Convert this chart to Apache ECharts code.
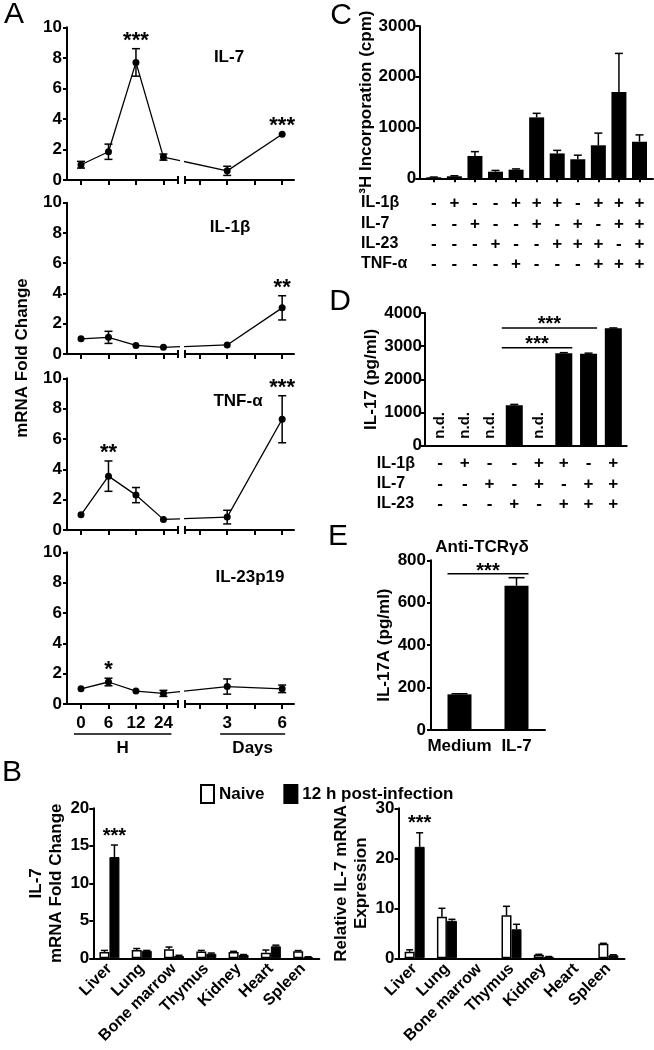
<!DOCTYPE html>
<html>
<head>
<meta charset="utf-8">
<script src="https://cdn.jsdelivr.net/npm/echarts@6.0.0/dist/echarts.min.js"></script>
<style>html,body{margin:0;padding:0;background:#fff;}#chart{width:654px;height:1050px;}</style>
</head>
<body>
<div id="chart"></div>
<script>
// ===== Panel A: time course of mRNA fold change =====
const timeLabels = ['0 h', '6 h', '12 h', '24 h', '3 d', '6 d'];
const timePos = [0, 1, 2, 3, 5.32, 7.32];
const hourTickPos = [0, 1, 2, 3];
const hourTickLabels = ['0', '6', '12', '24'];
const dayTickPos = [4.32, 5.32, 6.32, 7.32];
const dayTickLabels = ['', '3', '', '6'];
const hourGroupLabel = 'H';
const dayGroupLabel = 'Days';
const aTitles = ['IL-7', 'IL-1β', 'TNF-α', 'IL-23p19'];

const il7Mean = [1.0, 1.85, 7.7, 1.5, 0.6, 3.0];
const il7Err = [0.22, 0.5, 0.9, 0.2, 0.3, 0];
const il7Sig = ['', '', '***', '', '', '***'];
const il1bMean = [1.0, 1.1, 0.57, 0.44, 0.6, 3.05];
const il1bErr = [0, 0.4, 0, 0, 0, 0.8];
const il1bSig = ['', '', '', '', '', '**'];
const tnfMean = [1.0, 3.55, 2.3, 0.7, 0.85, 7.3];
const tnfErr = [0, 1.0, 0.5, 0, 0.45, 1.55];
const tnfSig = ['', '**', '', '', '', '***'];
const il23Mean = [1.0, 1.45, 0.85, 0.7, 1.15, 1.0];
const il23Err = [0, 0.25, 0, 0.2, 0.5, 0.25];
const il23Sig = ['', '*', '', '', '', ''];

// ===== Panel B: organs =====
const organs = ['Liver', 'Lung', 'Bone marrow', 'Thymus', 'Kidney', 'Heart', 'Spleen'];
const bSeriesNames = ['Naive', '12 h post-infection'];
const foldNaive = [0.85, 1.1, 1.2, 0.9, 0.85, 0.75, 0.95];
const foldNaiveErr = [0.2, 0.2, 0.3, 0.15, 0.08, 0.35, 0.08];
const foldPost = [13.5, 1.0, 0.3, 0.6, 0.45, 1.6, 0.15];
const foldPostErr = [1.6, 0.05, 0.1, 0.1, 0.05, 0.15, 0.05];
const foldSig = ['***', '', '', '', '', '', ''];
const relNaive = [1.3, 8.3, null, 8.6, 0.7, null, 2.9];
const relNaiveErr = [0.4, 1.7, null, 1.8, 0.1, null, 0.1];
const relPost = [22.3, 7.5, null, 5.8, 0.3, null, 0.6];
const relPostErr = [2.8, 0.3, null, 1.0, 0.05, null, 0.1];
const relSig = ['***', '', '', '', '', '', ''];

// ===== Panel C: 3H incorporation =====
const cRowNames = ['IL-1β', 'IL-7', 'IL-23', 'TNF-α'];
const cIL1b = ['-', '+', '-', '-', '+', '+', '+', '-', '+', '+', '+'];
const cIL7 = ['-', '-', '+', '-', '-', '+', '-', '+', '-', '+', '+'];
const cIL23 = ['-', '-', '-', '+', '-', '-', '+', '+', '+', '-', '+'];
const cTNF = ['-', '-', '-', '-', '+', '-', '-', '-', '+', '+', '+'];
const cMean = [20, 40, 440, 130, 170, 1200, 490, 375, 650, 1700, 720];
const cErr = [5, 10, 85, 25, 15, 80, 60, 80, 240, 760, 135];

// ===== Panel D: IL-17 =====
const dRowNames = ['IL-1β', 'IL-7', 'IL-23'];
const dIL1b = ['-', '+', '-', '-', '+', '+', '-', '+'];
const dIL7 = ['-', '-', '+', '-', '+', '-', '+', '+'];
const dIL23 = ['-', '-', '-', '+', '-', '+', '+', '+'];
const dMean = [null, null, null, 1220, null, 2790, 2770, 3540];
const dErr = [0, 0, 0, 25, 0, 15, 20, 10];
const dND = ['n.d.', 'n.d.', 'n.d.', '', 'n.d.', '', '', ''];
const dSigStart = [3, 3];
const dSigEnd = [5, 6];
const dSigLevel = [2950, 3550];
const dSigText = ['***', '***'];

// ===== Panel E: IL-17A, anti-TCRγδ =====
const eCats = ['Medium', 'IL-7'];
const eMean = [168, 680];
const eErr = [3, 38];
const eSigStart = [0];
const eSigEnd = [1];
const eSigLevel = [737];
const eSigText = ['***'];

// ---------------------------------------------------------------
const FF = '"Liberation Sans", Arial, Helvetica, sans-serif';
const BLACK = '#000';
const lbl = (o) => Object.assign({ color: BLACK, fontFamily: FF, fontWeight: 'bold', fontSize: 17 }, o || {});
const plain = v => String(v);
const axLine = { show: true, onZero: false, lineStyle: { color: BLACK, width: 2 } };
const tickStyle = { color: BLACK, width: 2 };
const grid = [], xAxis = [], yAxis = [], series = [], graphic = [];
function addGrid(g) { grid.push(Object.assign({ containLabel: false, outerBoundsMode: 'none' }, g)); return grid.length - 1; }
function addX(a) { xAxis.push(a); return xAxis.length - 1; }
function addY(a) { yAxis.push(a); return yAxis.length - 1; }

function errRenderer(opts) {
  return function (params, api) {
    const x = api.value(0), m = api.value(1), e = api.value(2);
    if (isNaN(m) || !(e > 0)) return null;
    const hi = api.coord([x, m + e]);
    const mid = api.coord([x, m]);
    const lo = api.coord([x, m - e]);
    const cx = hi[0] + (opts.dx || 0);
    const yBot = opts.both ? lo[1] : mid[1];
    const st = { stroke: BLACK, lineWidth: opts.w || 1.5 };
    const ch = [
      { type: 'line', shape: { x1: cx, y1: hi[1], x2: cx, y2: yBot }, style: st },
      { type: 'line', shape: { x1: cx - opts.cap, y1: hi[1], x2: cx + opts.cap, y2: hi[1] }, style: st }
    ];
    if (opts.both) ch.push({ type: 'line', shape: { x1: cx - opts.cap, y1: yBot, x2: cx + opts.cap, y2: yBot }, style: st });
    return { type: 'group', children: ch };
  };
}
function sigRenderer(texts, size, off, dx) {
  return function (params, api) {
    const s = texts[params.dataIndex];
    if (!s) return null;
    const v = api.value(1);
    if (isNaN(v)) return null;
    const c = api.coord([api.value(0), v]);
    return { type: 'text', x: c[0] + (dx || 0), y: c[1] - off,
      style: { text: s, fill: BLACK, font: 'bold ' + size + 'px ' + FF, align: 'center', verticalAlign: 'middle' } };
  };
}
function bracketRenderer(texts, halfBar, leftPad, sigOff) {
  return function (params, api) {
    const a = api.coord([api.value(0), api.value(2)]);
    const b = api.coord([api.value(1), api.value(2)]);
    const x1 = a[0] - halfBar - leftPad, x2 = b[0] + halfBar;
    return { type: 'group', children: [
      { type: 'line', shape: { x1: x1, y1: a[1], x2: x2, y2: a[1] }, style: { stroke: BLACK, lineWidth: 1.5 } },
      { type: 'text', x: (x1 + x2) / 2, y: a[1] - sigOff,
        style: { text: texts[params.dataIndex], fill: BLACK, font: 'bold 20px ' + FF, align: 'center', verticalAlign: 'middle' } }
    ] };
  };
}

// ===================== Panel A =====================
const aPanels = [
  { mean: il7Mean, err: il7Err, sig: il7Sig },
  { mean: il1bMean, err: il1bErr, sig: il1bSig },
  { mean: tnfMean, err: tnfErr, sig: tnfSig },
  { mean: il23Mean, err: il23Err, sig: il23Sig }
];
const aTop = [27.3, 202.7, 378.3, 552.3];
const aH = [152.7, 151.3, 151.7, 151.7];
const aTitlePos = [[229, 57], [230, 227.5], [238, 401], [250, 577]];
const A_PX = 27.48, A_L0 = 67, A_ZERO = 81, A_LW = 111, A_R0 = 185, A_RW = 109;
const lineStyleA = { color: BLACK, width: 1.3 };
aPanels.forEach((p, k) => {
  const last = k === 3;
  const gL = addGrid({ left: A_L0, top: aTop[k], width: A_LW, height: aH[k] });
  const gR = addGrid({ left: A_R0, top: aTop[k], width: A_RW, height: aH[k] });
  const lmin = -(A_ZERO - A_L0) / A_PX, lmax = lmin + A_LW / A_PX;
  const rmin = (A_R0 - A_ZERO) / A_PX, rmax = rmin + A_RW / A_PX;
  const xl = addX({ gridIndex: gL, type: 'value', min: lmin, max: lmax, axisLine: axLine, splitLine: { show: false },
    axisTick: { show: true, customValues: hourTickPos, length: 5, lineStyle: tickStyle },
    axisLabel: last ? lbl({ customValues: hourTickPos, margin: 11, formatter: v => hourTickLabels[hourTickPos.indexOf(v)] }) : { show: false } });
  const xr = addX({ gridIndex: gR, type: 'value', min: rmin, max: rmax, axisLine: axLine, splitLine: { show: false },
    axisTick: { show: true, customValues: dayTickPos, length: 5, lineStyle: tickStyle },
    axisLabel: last ? lbl({ customValues: dayTickPos, margin: 11, formatter: v => dayTickLabels[dayTickPos.indexOf(v)] }) : { show: false } });
  const yl = addY({ gridIndex: gL, type: 'value', min: 0, max: 10, interval: 2, axisLine: axLine, splitLine: { show: false },
    axisTick: { show: true, length: 4, lineStyle: tickStyle }, axisLabel: lbl({ margin: 5, formatter: plain }) });
  const yr = addY({ gridIndex: gR, type: 'value', min: 0, max: 10, show: false });

  const iL = [0, 1, 2, 3], iR = [4, 5];
  const lineBase = { type: 'line', symbol: 'circle', symbolSize: 7, itemStyle: { color: BLACK }, lineStyle: lineStyleA, clip: true, z: 3 };
  series.push(Object.assign({}, lineBase, { name: aTitles[k] + ' hours', xAxisIndex: xl, yAxisIndex: yl, data: iL.map(i => [timePos[i], p.mean[i]]) }));
  series.push(Object.assign({}, lineBase, { name: aTitles[k] + ' days', xAxisIndex: xr, yAxisIndex: yr, data: iR.map(i => [timePos[i], p.mean[i]]) }));
  // connector across the axis break (clipped by each grid)
  [[xl, yl], [xr, yr]].forEach(([xi, yi]) => {
    series.push(Object.assign({}, lineBase, { symbol: 'none', xAxisIndex: xi, yAxisIndex: yi, data: [3, 4].map(i => [timePos[i], p.mean[i]]) }));
  });
  series.push({ type: 'custom', xAxisIndex: xl, yAxisIndex: yl, z: 4, renderItem: errRenderer({ cap: 4, both: true }), data: iL.map(i => [timePos[i], p.mean[i], p.err[i]]) });
  series.push({ type: 'custom', xAxisIndex: xr, yAxisIndex: yr, z: 4, renderItem: errRenderer({ cap: 4, both: true }), data: iR.map(i => [timePos[i], p.mean[i], p.err[i]]) });
  series.push({ type: 'custom', xAxisIndex: xl, yAxisIndex: yl, z: 5, renderItem: sigRenderer(iL.map(i => p.sig[i]), 22, 8), data: iL.map(i => [timePos[i], p.mean[i] + p.err[i]]) });
  series.push({ type: 'custom', xAxisIndex: xr, yAxisIndex: yr, z: 5, renderItem: sigRenderer(iR.map(i => p.sig[i]), 22, 8), data: iR.map(i => [timePos[i], p.mean[i] + p.err[i]]) });
  // axis break end marks
  series.push({ type: 'custom', xAxisIndex: xl, yAxisIndex: yl, data: [[lmax, 0]], renderItem: (params, api) => {
    const c = api.coord([api.value(0), api.value(1)]);
    return { type: 'line', shape: { x1: c[0], y1: c[1] - 4, x2: c[0], y2: c[1] + 4 }, style: { stroke: BLACK, lineWidth: 2 } }; } });
  series.push({ type: 'custom', xAxisIndex: xr, yAxisIndex: yr, data: [[rmin, 0]], renderItem: (params, api) => {
    const c = api.coord([api.value(0), api.value(1)]);
    return { type: 'line', shape: { x1: c[0], y1: c[1] - 4, x2: c[0], y2: c[1] + 4 }, style: { stroke: BLACK, lineWidth: 2 } }; } });
  if (last) {
    const groupRender = (label, lp, rp) => (params, api) => {
      const a = api.coord([api.value(0), 0]), b = api.coord([api.value(1), 0]);
      const x1 = a[0] - lp, x2 = b[0] + rp, y = a[1] + 30;
      return { type: 'group', children: [
        { type: 'line', shape: { x1: x1, y1: y, x2: x2, y2: y }, style: { stroke: BLACK, lineWidth: 1.5 } },
        { type: 'text', x: (x1 + x2) / 2, y: y + 14, style: { text: label, fill: BLACK, font: 'bold 17px ' + FF, align: 'center', verticalAlign: 'middle' } }
      ] };
    };
    series.push({ type: 'custom', xAxisIndex: xl, yAxisIndex: yl, data: [[hourTickPos[0], hourTickPos[3]]], renderItem: groupRender(hourGroupLabel, 7, 8) });
    series.push({ type: 'custom', xAxisIndex: xr, yAxisIndex: yr, data: [[dayTickPos[1], dayTickPos[3]]], renderItem: groupRender(dayGroupLabel, 7, 3) });
  }
  graphic.push({ type: 'text', x: aTitlePos[k][0], y: aTitlePos[k][1], silent: true,
    style: { text: aTitles[k], fill: BLACK, font: 'bold 17px ' + FF, align: 'center', verticalAlign: 'middle' } });
});
graphic.push({ type: 'text', x: 22, y: 358, rotation: Math.PI / 2, silent: true,
  style: { text: 'mRNA Fold Change', fill: BLACK, font: 'bold 17px ' + FF, align: 'center', verticalAlign: 'middle' } });

// ===================== Panel B =====================
const B_BW = 10;
function bPlot(left, yMax, yInt, yName, nameGap, naive, naiveErr, post, postErr, sig) {
  const g = addGrid({ left: left, top: 808.3, width: 226, height: 150 });
  const xi = addX({ gridIndex: g, type: 'category', data: organs, axisLine: axLine, axisTick: { show: false },
    axisLabel: lbl({ fontSize: 16, rotate: 45, margin: 8, interval: 0 }) });
  const yi = addY({ gridIndex: g, type: 'value', min: 0, max: yMax, interval: yInt, axisLine: axLine, splitLine: { show: false },
    axisTick: { show: true, length: 4, lineStyle: tickStyle }, axisLabel: lbl({ margin: 4, formatter: plain }),
    name: yName, nameLocation: 'middle', nameRotate: 90, nameGap: nameGap,
    nameTextStyle: lbl({ fontSize: 17, lineHeight: 20 }) });
  series.push({ type: 'bar', name: bSeriesNames[0], xAxisIndex: xi, yAxisIndex: yi, data: naive, barWidth: B_BW, barGap: '0%',
    itemStyle: { color: '#fff', borderColor: BLACK, borderWidth: 1.5 } });
  series.push({ type: 'bar', name: bSeriesNames[1], xAxisIndex: xi, yAxisIndex: yi, data: post, barWidth: B_BW, barGap: '0%',
    itemStyle: { color: BLACK, borderColor: BLACK, borderWidth: 1 } });
  series.push({ type: 'custom', xAxisIndex: xi, yAxisIndex: yi, z: 4, renderItem: errRenderer({ cap: 3.5, dx: -B_BW / 2 }),
    data: organs.map((o, i) => [i, naive[i], naiveErr[i]]) });
  series.push({ type: 'custom', xAxisIndex: xi, yAxisIndex: yi, z: 4, renderItem: errRenderer({ cap: 3.5, dx: B_BW / 2 }),
    data: organs.map((o, i) => [i, post[i], postErr[i]]) });
  series.push({ type: 'custom', xAxisIndex: xi, yAxisIndex: yi, z: 5, renderItem: sigRenderer(sig, 20, 9, B_BW / 2),
    data: organs.map((o, i) => [i, post[i] == null ? null : post[i] + postErr[i]]) });
}
bPlot(93.3, 20, 5, 'IL-7\nmRNA Fold Change', 26, foldNaive, foldNaiveErr, foldPost, foldPostErr, foldSig);
bPlot(398.5, 30, 10, 'Relative IL-7 mRNA\nExpression', 17, relNaive, relNaiveErr, relPost, relPostErr, relSig);

// ===================== Panel C =====================
(function () {
  const g = addGrid({ left: 419.3, top: 26, width: 233.7, height: 152.3 });
  const sp = 20.57, first = 433.8;
  const mn = (419.3 - first) / sp, mx = mn + 233.7 / sp;
  const idx = cMean.map((v, i) => i);
  const xi = addX({ gridIndex: g, type: 'value', min: mn, max: mx, axisLine: axLine, splitLine: { show: false },
    axisTick: { show: true, customValues: idx, length: 4, lineStyle: tickStyle }, axisLabel: { show: false } });
  const rows = [cIL1b, cIL7, cIL23, cTNF];
  const rowY = [203, 224, 244, 264];
  rows.forEach((r, k) => {
    addX({ gridIndex: g, type: 'value', min: mn, max: mx, position: 'bottom', offset: rowY[k] - 178.3,
      axisLine: { show: false, onZero: false }, axisTick: { show: false }, splitLine: { show: false },
      axisLabel: lbl({ customValues: idx, margin: 0, verticalAlign: 'middle', lineHeight: 17, formatter: v => r[v] }),
      name: cRowNames[k], nameLocation: 'start', nameGap: 58.3,
      nameTextStyle: lbl({ fontSize: 16, align: 'left', verticalAlign: 'middle' }) });
  });
  const yi = addY({ gridIndex: g, type: 'value', min: 0, max: 3000, interval: 1000, axisLine: axLine, splitLine: { show: false },
    axisTick: { show: true, length: 4, lineStyle: tickStyle }, axisLabel: lbl({ margin: 3, formatter: plain }),
    name: '³H Incorporation (cpm)', nameLocation: 'middle', nameRotate: 90, nameGap: 44, nameTextStyle: lbl({ fontSize: 17 }) });
  series.push({ type: 'bar', xAxisIndex: xi, yAxisIndex: yi, barWidth: 15, itemStyle: { color: BLACK }, data: cMean.map((v, i) => [i, v]) });
  series.push({ type: 'custom', xAxisIndex: xi, yAxisIndex: yi, z: 4, renderItem: errRenderer({ cap: 4 }), data: cMean.map((v, i) => [i, v, cErr[i]]) });
})();

// ===================== Panel D =====================
(function () {
  const g = addGrid({ left: 425, top: 313, width: 201.7, height: 132.7 });
  const sp = 24.76, first = 440;
  const mn = (425 - first) / sp, mx = mn + 201.7 / sp;
  const idx = dMean.map((v, i) => i);
  const xi = addX({ gridIndex: g, type: 'value', min: mn, max: mx, axisLine: axLine, splitLine: { show: false },
    axisTick: { show: false }, axisLabel: { show: false } });
  const rows = [dIL1b, dIL7, dIL23];
  const rowY = [463.3, 484, 504];
  rows.forEach((r, k) => {
    addX({ gridIndex: g, type: 'value', min: mn, max: mx, position: 'bottom', offset: rowY[k] - 445.7,
      axisLine: { show: false, onZero: false }, axisTick: { show: false }, splitLine: { show: false },
      axisLabel: lbl({ customValues: idx, margin: 0, verticalAlign: 'middle', lineHeight: 17, formatter: v => r[v] }),
      name: dRowNames[k], nameLocation: 'start', nameGap: 48.3,
      nameTextStyle: lbl({ fontSize: 16, align: 'left', verticalAlign: 'middle' }) });
  });
  const yi = addY({ gridIndex: g, type: 'value', min: 0, max: 4000, interval: 1000, axisLine: axLine, splitLine: { show: false },
    axisTick: { show: true, length: 4, lineStyle: tickStyle }, axisLabel: lbl({ margin: 3, formatter: plain }),
    name: 'IL-17 (pg/ml)', nameLocation: 'middle', nameRotate: 90, nameGap: 45, nameTextStyle: lbl({ fontSize: 17 }) });
  const DBW = 17;
  const dBarData = dMean.map((v, i) => dND[i]
    ? { value: [i, 0], label: { show: true, formatter: dND[i] } }
    : [i, v]);
  series.push({ type: 'bar', xAxisIndex: xi, yAxisIndex: yi, barWidth: DBW, itemStyle: { color: BLACK }, data: dBarData,
    label: { show: false, position: 'top', rotate: 90, align: 'left', verticalAlign: 'middle', distance: 7,
      color: BLACK, fontFamily: FF, fontWeight: 'bold', fontSize: 15 } });
  series.push({ type: 'custom', xAxisIndex: xi, yAxisIndex: yi, z: 4, renderItem: errRenderer({ cap: 4 }), data: dMean.map((v, i) => [i, v, dErr[i]]) });
  series.push({ type: 'custom', xAxisIndex: xi, yAxisIndex: yi, z: 5, renderItem: bracketRenderer(dSigText, DBW / 2, 4, 3),
    data: dSigStart.map((s, i) => [s, dSigEnd[i], dSigLevel[i]]) });
})();

// ===================== Panel E =====================
(function () {
  const g = addGrid({ left: 431, top: 560.3, width: 114, height: 169.7 });
  const xi = addX({ gridIndex: g, type: 'category', data: eCats, axisLine: axLine, axisTick: { show: false },
    axisLabel: lbl({ margin: 8, interval: 0 }) });
  const yi = addY({ gridIndex: g, type: 'value', min: 0, max: 800, interval: 200, axisLine: axLine, splitLine: { show: false },
    axisTick: { show: true, length: 4, lineStyle: tickStyle }, axisLabel: lbl({ margin: 5, formatter: plain }),
    name: 'IL-17A (pg/ml)', nameLocation: 'middle', nameRotate: 90, nameGap: 38, nameTextStyle: lbl({ fontSize: 17 }) });
  const EBW = 24;
  series.push({ type: 'bar', xAxisIndex: xi, yAxisIndex: yi, barWidth: EBW, itemStyle: { color: BLACK }, data: eMean });
  series.push({ type: 'custom', xAxisIndex: xi, yAxisIndex: yi, z: 4, renderItem: errRenderer({ cap: 8 }), data: eMean.map((v, i) => [i, v, eErr[i]]) });
  series.push({ type: 'custom', xAxisIndex: xi, yAxisIndex: yi, z: 5, renderItem: bracketRenderer(eSigText, EBW / 2, 0, 2),
    data: eSigStart.map((s, i) => [s, eSigEnd[i], eSigLevel[i]]) });
  graphic.push({ type: 'text', x: 482, y: 547, silent: true,
    style: { text: 'Anti-TCRγδ', fill: BLACK, font: 'bold 17px ' + FF, align: 'center', verticalAlign: 'middle' } });
})();

// ===================== Panel letters =====================
[['A', 14, 15], ['B', 12, 773], ['C', 341, 16], ['D', 340, 302], ['E', 338, 537]].forEach(([t, x, y]) => {
  graphic.push({ type: 'text', x: x, y: y, silent: true,
    style: { text: t, fill: BLACK, font: '30px ' + FF, align: 'center', verticalAlign: 'middle' } });
});

const chart = echarts.init(document.getElementById('chart'), null, { renderer: 'canvas', width: 654, height: 1050 });
chart.setOption({
  animation: false,
  backgroundColor: '#fff',
  textStyle: { fontFamily: FF },
  legend: { data: bSeriesNames, left: 195, top: 779, itemWidth: 13, itemHeight: 18, itemGap: 19, icon: 'rect',
    selectedMode: false, textStyle: lbl({ fontSize: 17 }) },
  grid: grid, xAxis: xAxis, yAxis: yAxis, series: series, graphic: graphic
});
</script>
</body>
</html>
